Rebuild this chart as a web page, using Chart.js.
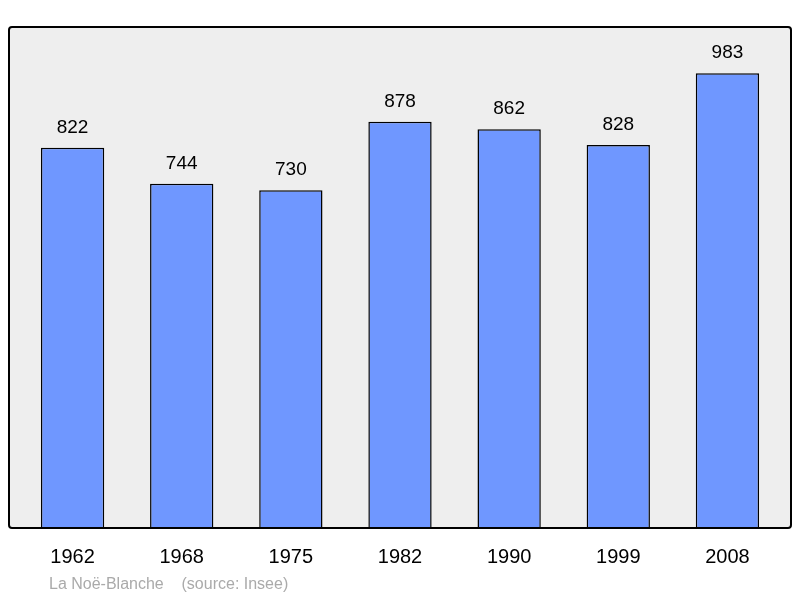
<!DOCTYPE html>
<html><head><meta charset="utf-8"><script src="https://cdn.jsdelivr.net/npm/chart.js"></script>
<style>body{margin:0;background:#fff}#w{width:800px;height:598px}</style></head>
<body><div id="w"><canvas id="c"></canvas></div>
<script>
const years=["1962","1968","1975","1982","1990","1999","2008"];
const population=[822,744,730,878,862,828,983];
const footer="La Noë-Blanche    (source: Insee)";
const deco={id:'deco',
beforeDraw(ch){const a=ch.chartArea,c=ch.ctx;c.save();c.fillStyle='#eeeeee';c.beginPath();c.roundRect(9,a.top,782,a.bottom-a.top,3);c.fill();c.restore();},
afterDraw(ch){const a=ch.chartArea,c=ch.ctx,x=ch.scales.x,y=ch.scales.y;c.save();
c.strokeStyle='#000';c.lineWidth=2;c.beginPath();c.roundRect(9,a.top,782,a.bottom-a.top,3);c.stroke();
c.fillStyle='#000';c.textAlign='center';c.font='20px "Liberation Sans", Arial';
years.forEach((t,i)=>c.fillText(t,x.getPixelForValue(i),563));
c.font='19px "Liberation Sans", Arial';
population.forEach((v,i)=>c.fillText(v,x.getPixelForValue(i),y.getPixelForValue(v)-15));
c.textAlign='left';c.fillStyle='#aaaaaa';c.font='16px "Liberation Sans", Arial';c.fillText(footer,49,589);
c.restore();}};
new Chart(document.getElementById('c'),{type:'bar',
data:{labels:years,datasets:[{data:population,backgroundColor:'#6f97ff',borderColor:'#000',borderWidth:1.5,barPercentage:0.58,categoryPercentage:1}]},
options:{responsive:true,maintainAspectRatio:false,animation:false,
layout:{padding:{left:18,right:18,top:27,bottom:70}},
plugins:{legend:{display:false},tooltip:{enabled:false}},
scales:{x:{display:false},y:{display:false,min:0,max:1083}}},
plugins:[deco]});
</script></body></html>
